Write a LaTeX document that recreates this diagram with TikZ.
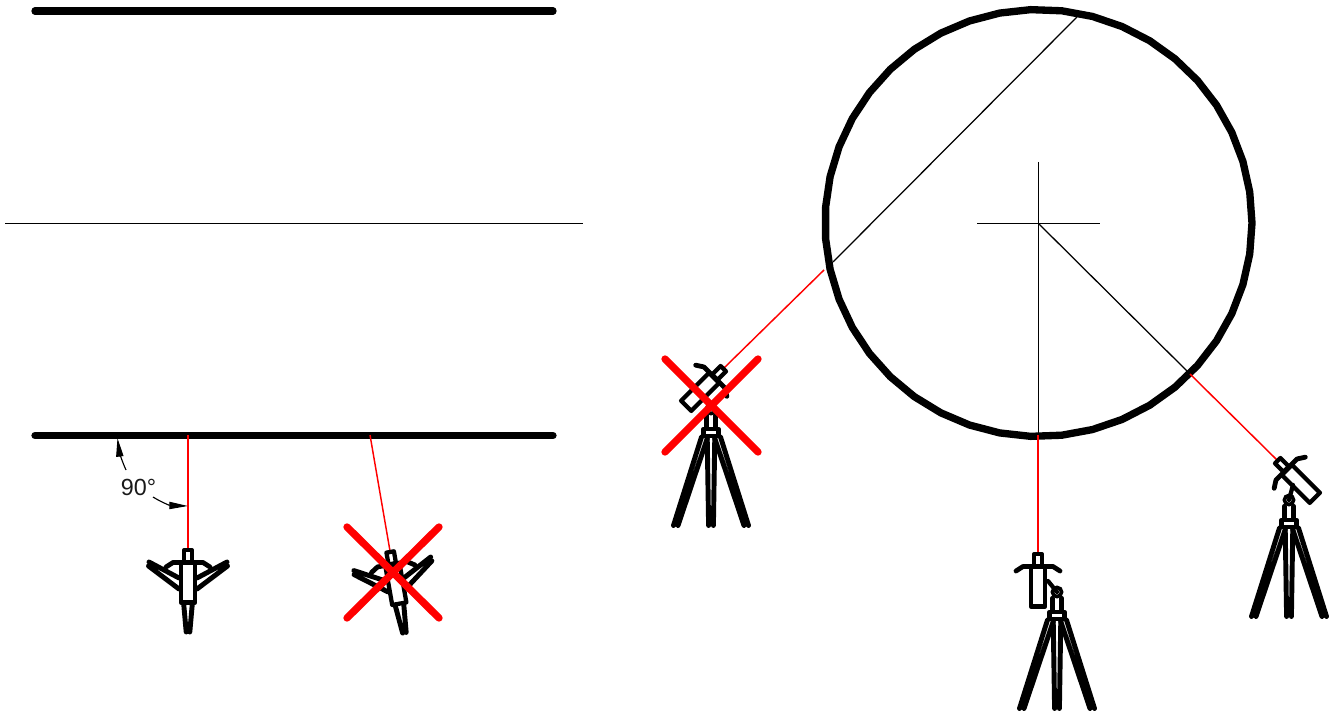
\documentclass[tikz,border=0pt]{standalone}
\usepackage{fontspec}
\setmainfont{Liberation Sans}
\usetikzlibrary{arrows.meta}
\tikzset{
  x=0.75pt,y=-0.75pt,
  heavy/.style={line width=5.5pt,line cap=round,line join=round,black},
  thinline/.style={line width=0.95pt,black},
  redline/.style={line width=1.1pt,red},
  crossline/.style={line width=5.5pt,line cap=round,red},
  part/.style={line width=3.2pt,line cap=round,line join=round,black},
  ballring/.style={line width=2.7pt,black},
  leg/.style={line width=3.7pt,line cap=round,line join=round,black},
  dimarrow/.style={line width=0.85pt,black,-{Triangle[length=14pt,width=5.4pt]}},
  pics/camera/.style={code={
    \draw[part] (-3.8,1) rectangle (3.8,13);
    \draw[part] (-7.2,14) rectangle (7.2,53.5);
    \draw[part,line width=3.6pt] (-22,18) -- (-15,13.5) -- (15,13.5) -- (22,18);
  }},
  pics/topview/.style={code={
    \draw[leg] (-39,13) -- (-9,29) (-39.5,17) -- (-9,40);
    \draw[leg] (39,13) -- (9,29) (39.5,17) -- (9,40);
    \draw[leg] (-1.8,83) -- (-4.2,56) (1.8,83) -- (4.2,56);
  }},
  pics/tripod/.style={code={
    \draw[ballring] (0,0) circle (4.6);
    \draw[part] (-4.4,6) -- (-4.4,19) (4.4,6) -- (4.4,19);
    \draw[part] (-7.5,20) rectangle (7.5,27);
    \draw[leg] (-37.5,116.5) -- (-9.5,28) (-33,116.5) -- (-3.6,29);
    \draw[leg] (-2.4,116.5) -- (-3.8,28) (2.4,116.5) -- (3.8,28);
    \draw[leg] (37.5,116.5) -- (9.5,28) (33,116.5) -- (3.6,29);
  }}
}
\begin{document}
\begin{tikzpicture}
\useasboundingbox (0,0) rectangle (1340,713);
% left: walls and axis
\coordinate (wallTopL) at (35,11);
\coordinate (wallTopR) at (553,11);
\coordinate (wallBotL) at (35,435.5);
\coordinate (wallBotR) at (553,435.5);
\coordinate (axisL) at (5,223.5);
\coordinate (axisR) at (583,223.5);
\draw[heavy] (wallTopL) -- (wallTopR);
\draw[heavy] (wallBotL) -- (wallBotR);
\draw[thinline] (axisL) -- (axisR);
% dimension
\node[font=\fontsize{17.5}{19}\selectfont,inner sep=0pt,text=black!90] (angle) at (138.5,487) {90°};
\coordinate (dimTipA) at (117.5,438);
\coordinate (dimTipB) at (188,506);
\draw[dimarrow] (126,470) .. controls (121,459) and (119,450) .. (dimTipA);
\draw[dimarrow] (153,497) .. controls (161,502) and (170,505.5) .. (dimTipB);
% red sight lines, left
\coordinate (hitA) at (188,435);
\coordinate (camA) at (188,549);
\coordinate (hitB) at (370,435);
\coordinate (camB) at (390,551);
\draw[redline] (hitB) -- (camB);
\draw[redline] (hitA) -- (camA);
% top-view instruments
\pic at (camA) {topview};
\pic at (camA) {camera};
\pic[rotate=10] at (camB) {topview};
\pic[rotate=10] at (camB) {camera};
\coordinate (xa1) at (347,527);
\coordinate (xa2) at (439,618);
\coordinate (xa3) at (347,618);
\coordinate (xa4) at (439,527);
\draw[crossline] (xa1) -- (xa2);
\draw[crossline] (xa3) -- (xa4);
% right: ring (faceted, 43 sides)
\draw[heavy] plot[samples=44,domain=175.81:535.81,variable=\a] ({1038.5+213.5*cos(\a)},{223-213.5*sin(\a)}) -- cycle;
\coordinate (crossW) at (977,223.5);
\coordinate (crossE) at (1100,223.5);
\coordinate (crossN) at (1038.5,162);
\coordinate (crossS) at (1038.5,435);
\coordinate (ringC) at (1038.5,223.5);
\coordinate (rayStartE) at (1038,435);
\coordinate (camE) at (1038,553);
\draw[thinline] (crossW) -- (crossE);
\draw[thinline] (crossN) -- (crossS);
\coordinate (diaA) at (1077,17);
\coordinate (diaB) at (833,262);
\coordinate (rayCS) at (824,270);
\coordinate (camC) at (724,368);
\coordinate (rayBR) at (1190,374);
\coordinate (camD) at (1277,460);
\draw[thinline] (diaA) -- (diaB);
\draw[thinline] (ringC) -- (rayBR);
\draw[redline] (rayCS) -- (camC);
\draw[redline] (rayBR) -- (camD);
\draw[redline] (rayStartE) -- (camE);
% side-view instruments
\coordinate (ballE) at (1057,592);
\coordinate (armE) at (1048,581);
\coordinate (ballD) at (1289,500);
\coordinate (armD) at (1293,485);
\coordinate (ballC) at (711,409);
\draw[part] (ballE) -- (armE);
\pic at (camE) {camera};
\pic at (ballE) {tripod};
\draw[part] (ballD) -- (armD);
\pic[rotate=45] at (camD) {camera};
\pic at (ballD) {tripod};
\pic[rotate=-45] at (camC) {camera};
\pic at (ballC) {tripod};
\coordinate (xb1) at (665,359);
\coordinate (xb2) at (758,452);
\coordinate (xb3) at (665,452);
\coordinate (xb4) at (758,359);
\draw[crossline] (xb1) -- (xb2);
\draw[crossline] (xb3) -- (xb4);
\end{tikzpicture}
\end{document}
